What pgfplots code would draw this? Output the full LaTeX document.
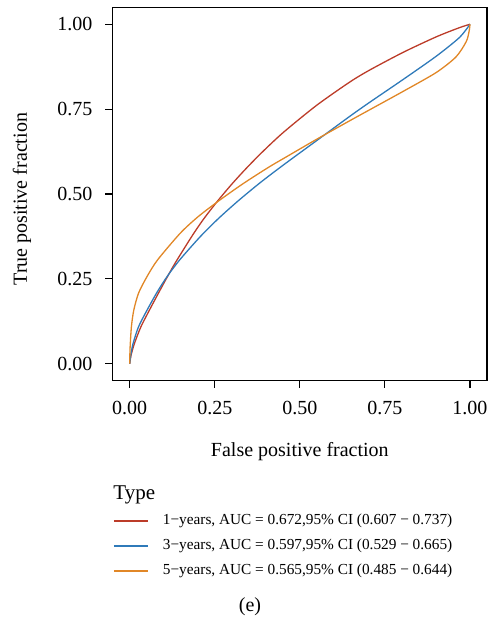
\documentclass[border=0pt]{standalone}
\usepackage{fontspec}
\setmainfont{Liberation Serif}
\usepackage{pgfplots}
\pgfplotsset{compat=1.18}
\definecolor{oneyr}{HTML}{BC3C29}
\definecolor{threeyr}{HTML}{2F7AB9}
\definecolor{fiveyr}{HTML}{E18727}

\begin{document}
\begin{tikzpicture}
\useasboundingbox (0pt,0pt) rectangle (243.5pt,310pt);
\begin{axis}[
  at={(56.35pt,119.65pt)},anchor=south west,
  scale only axis,width=187.15pt,height=186.7pt,
  xmin=-0.05,xmax=1.05,ymin=-0.05,ymax=1.05,
  xtick={0,0.25,0.5,0.75,1},ytick={0,0.25,0.5,0.75,1},
  xtick pos=bottom,ytick pos=left,tick align=outside,
  major tick length=3.6pt,
  tick style={black,line width=0.55pt},
  axis line style={black,line width=0.6pt},
  /pgf/number format/assume math mode=true,
  /pgf/number format/.cd,fixed,fixed zerofill,precision=2,/pgfplots/.cd,
  tick label style={font=\fontsize{10}{12}\selectfont},
  xticklabel style={yshift=-3pt},
  yticklabel style={xshift=-3pt},
  label style={font=\fontsize{10.5}{12}\selectfont},
  xlabel={False positive fraction},
  ylabel={True positive fraction},
  every axis x label/.style={at={(axis description cs:0.5,-0.191)},anchor=center},
  every axis y label/.style={at={(axis description cs:-0.2423,0.486)},anchor=center,rotate=90},
  legend style={at={(axis description cs:0.0,-0.3457)},anchor=north west,draw=none,fill=none,
    font=\fontsize{7.65}{9.5}\selectfont,inner sep=0pt,row sep=1.7pt,
    /tikz/every odd column/.append style={column sep=5.2pt}},
  legend cell align=left,
  legend image code/.code={\draw[#1,line width=0.7pt] (0pt,0pt) -- (17pt,0pt);},
  every axis plot/.append style={line width=0.65pt,smooth,tension=0.45},
]
\addplot[oneyr] coordinates {
(0,0) (0.004,0.025) (0.014,0.060) (0.033,0.109) (0.059,0.160) (0.085,0.209)
(0.110,0.255) (0.135,0.299) (0.183,0.376) (0.217,0.426) (0.258,0.479)
(0.300,0.529) (0.342,0.575) (0.388,0.622) (0.451,0.681) (0.549,0.761)
(0.647,0.830) (0.705,0.865) (0.803,0.917) (0.901,0.963) (0.969,0.990) (1,1)};
\addlegendentry{1−years, AUC = 0.672,95\% CI (0.607 − 0.737)}
\addplot[threeyr] coordinates {
(0,0) (0.003,0.025) (0.010,0.060) (0.026,0.109) (0.051,0.158) (0.080,0.210)
(0.110,0.257) (0.147,0.306) (0.207,0.374) (0.261,0.428) (0.319,0.480)
(0.383,0.533) (0.451,0.585) (0.549,0.657) (0.647,0.729) (0.705,0.770)
(0.803,0.837) (0.901,0.906) (0.969,0.961) (1,1)};
\addlegendentry{3−years, AUC = 0.597,95\% CI (0.529 − 0.665)}
\addplot[fiveyr] coordinates {
(0,0) (0.001,0.045) (0.005,0.109) (0.012,0.158) (0.026,0.208) (0.051,0.257)
(0.082,0.306) (0.149,0.385) (0.202,0.434) (0.266,0.483) (0.334,0.531)
(0.407,0.578) (0.451,0.604) (0.549,0.661) (0.647,0.716) (0.705,0.748)
(0.803,0.802) (0.901,0.858) (0.959,0.904) (0.989,0.949) (0.9975,0.980) (1,1)};
\addlegendentry{5−years, AUC = 0.565,95\% CI (0.485 − 0.644)}
\end{axis}
\node[anchor=base west,inner sep=0pt,font=\fontsize{10.5}{12}\selectfont] at (56.5pt,60pt) {Type};
\node[inner sep=0pt,font=\fontsize{10}{12}\selectfont] at (125pt,6.5pt) {(e)};
\end{tikzpicture}
\end{document}
